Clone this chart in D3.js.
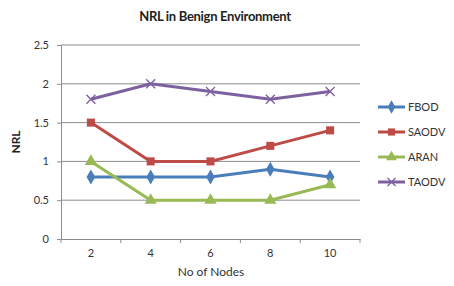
<!DOCTYPE html>
<html>
<head>
<meta charset="utf-8">
<script src="https://cdn.jsdelivr.net/npm/d3@7"></script>
<style>
  body { margin: 0; background: #fff; }
  text { font-family: Lato, "Open Sans", sans-serif; }
</style>
</head>
<body>
<svg id="chart" width="454" height="286"></svg>
<script>
// data
var nodes = ["2", "4", "6", "8", "10"];
var fbod  = [0.8, 0.8, 0.8, 0.9, 0.8];
var saodv = [1.5, 1.0, 1.0, 1.2, 1.4];
var aran  = [1.0, 0.5, 0.5, 0.5, 0.7];
var taodv = [1.8, 2.0, 1.9, 1.8, 1.9];
var yTicks = [0, 0.5, 1, 1.5, 2, 2.5];

var series = [
    { name: "FBOD",  values: fbod,  color: "#4a7ebb", sym: d3.symbolDiamond },
    { name: "SAODV", values: saodv, color: "#be4b48", sym: d3.symbolSquare },
    { name: "ARAN",  values: aran,  color: "#98b954", sym: d3.symbolTriangle },
    { name: "TAODV", values: taodv, color: "#7d60a0", sym: "x" }
];

var svg = d3.select("#chart");
var plotLeft = 61, plotRight = 360, plotTop = 45, plotBottom = 239;

var x = d3.scaleBand().domain(nodes).range([plotLeft, plotRight]);
var y = d3.scaleLinear().domain([0, 2.5]).range([plotBottom, plotTop]);

// title
svg.append("text")
    .attr("x", 215).attr("y", 21)
    .attr("text-anchor", "middle")
    .style("font-size", "13px").style("font-weight", "bold")
    .style("letter-spacing", "-0.3px")
    .attr("fill", "#222")
    .text("NRL in Benign Environment");

// gridlines
svg.append("g").selectAll("line")
    .data(yTicks.filter(d => d > 0))
    .enter().append("line")
    .attr("x1", plotLeft).attr("x2", plotRight)
    .attr("y1", d => y(d)).attr("y2", d => y(d))
    .attr("stroke", "#8c8c8c").attr("stroke-width", 1);

// y axis
var yAxis = svg.append("g")
    .attr("transform", "translate(" + plotLeft + ",0)")
    .call(d3.axisLeft(y).tickValues(yTicks).tickSize(4).tickPadding(8).tickFormat(d3.format("")));
yAxis.select(".domain").attr("stroke", "#8c8c8c");
yAxis.selectAll(".tick line").attr("stroke", "#8c8c8c");
yAxis.selectAll("text").style("font-size", "11px").attr("fill", "#333");

// x axis
var xAxis = svg.append("g")
    .attr("transform", "translate(0," + plotBottom + ")")
    .call(d3.axisBottom(x).tickSize(0).tickPadding(10));
xAxis.select(".domain").attr("stroke", "#8c8c8c");
xAxis.selectAll("text").style("font-size", "11px").attr("fill", "#333");
// tick marks between categories
svg.append("g").selectAll("line")
    .data(nodes.concat(["end"]))
    .enter().append("line")
    .attr("x1", (d, i) => plotLeft + i * x.step())
    .attr("x2", (d, i) => plotLeft + i * x.step())
    .attr("y1", plotBottom).attr("y2", plotBottom + 4)
    .attr("stroke", "#8c8c8c");

// axis labels
svg.append("text")
    .attr("transform", "translate(20,142) rotate(-90)")
    .attr("text-anchor", "middle")
    .style("font-size", "12px").style("font-weight", "bold")
    .attr("fill", "#222")
    .text("NRL");
svg.append("text")
    .attr("x", 211).attr("y", 276)
    .attr("text-anchor", "middle")
    .style("font-size", "12px")
    .attr("fill", "#333")
    .text("No of Nodes");

function cx(i) { return x(nodes[i]) + x.bandwidth() / 2; }

function drawMarker(g, s, px, py, size) {
    if (s.sym === "x") {
        var r = size;
        g.append("path")
            .attr("d", "M" + (px - r) + "," + (py - r) + "L" + (px + r) + "," + (py + r) +
                       "M" + (px - r) + "," + (py + r) + "L" + (px + r) + "," + (py - r))
            .attr("stroke", s.color).attr("stroke-width", 1.3).attr("fill", "none");
    } else {
        g.append("path")
            .attr("d", d3.symbol().type(s.sym).size(size * size * 3.2)())
            .attr("transform", "translate(" + px + "," + py + ")")
            .attr("fill", s.color);
    }
}

var line = d3.line().x((d, i) => cx(i)).y(d => y(d));

series.forEach(function(s) {
    var g = svg.append("g");
    g.append("path")
        .attr("d", line(s.values))
        .attr("fill", "none")
        .attr("stroke", s.color)
        .attr("stroke-width", 3);
    s.values.forEach(function(v, i) {
        drawMarker(g, s, cx(i), y(v), 4.5);
    });
});

// legend
series.forEach(function(s, i) {
    var ly = 107 + i * 25;
    var g = svg.append("g");
    g.append("line")
        .attr("x1", 378).attr("x2", 405)
        .attr("y1", ly).attr("y2", ly)
        .attr("stroke", s.color).attr("stroke-width", 3);
    drawMarker(g, s, 391.5, ly, 4);
    g.append("text")
        .attr("x", 408).attr("y", ly + 4)
        .style("font-size", "11px")
        .attr("fill", "#333")
        .text(s.name);
});
</script>
</body>
</html>
